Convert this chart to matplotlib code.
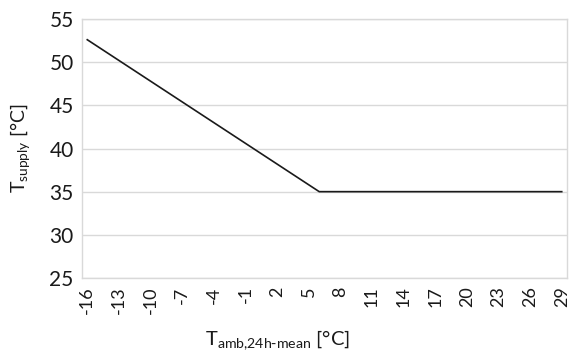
import numpy as np
import matplotlib
matplotlib.use("Agg")
import matplotlib.pyplot as plt

plt.rcParams['font.family'] = ['Lato', 'DejaVu Sans']
plt.rcParams['mathtext.default'] = 'regular'

# breakpoints of the heating curve
t_amb = [-16, 6, 29]
t_supply = [52.6, 35, 35]

x_ticks = list(range(-16, 30, 3))
y_ticks = [25, 30, 35, 40, 45, 50, 55]

fig = plt.figure(figsize=(5.72, 3.56), dpi=100)
ax = fig.add_axes([82 / 572, 1 - 278 / 356, 485 / 572, 259 / 356])

ax.plot(t_amb, t_supply, color='#1a1a1a', linewidth=1.2)

ax.set_xlim(-16.5, 29.5)
ax.set_ylim(25, 55)
ax.set_xticks(x_ticks)
ax.set_xticklabels([str(v) for v in x_ticks], rotation=90, fontsize=13)
ax.set_yticks(y_ticks)
ax.set_yticklabels([str(v) for v in y_ticks], fontsize=15)
ax.tick_params(length=0, pad=6, colors='#1a1a1a')

ax.grid(axis='y', color='#d9d9d9', linewidth=1)
ax.set_axisbelow(True)
for s in ax.spines.values():
    s.set_color('#d9d9d9')
    s.set_linewidth(1)

fig.text(20 / 572, 1 - 148 / 356, 'T$_{supply}$ [°C]', rotation=90,
         ha='center', va='center', fontsize=14, color='#1a1a1a')
fig.text(205 / 572, 1 - 340 / 356, 'T$_{amb{,}24h\\text{-}mean}$ [°C]',
         ha='left', va='center', fontsize=14.5, color='#1a1a1a')

fig.savefig('out.png', dpi=100)
